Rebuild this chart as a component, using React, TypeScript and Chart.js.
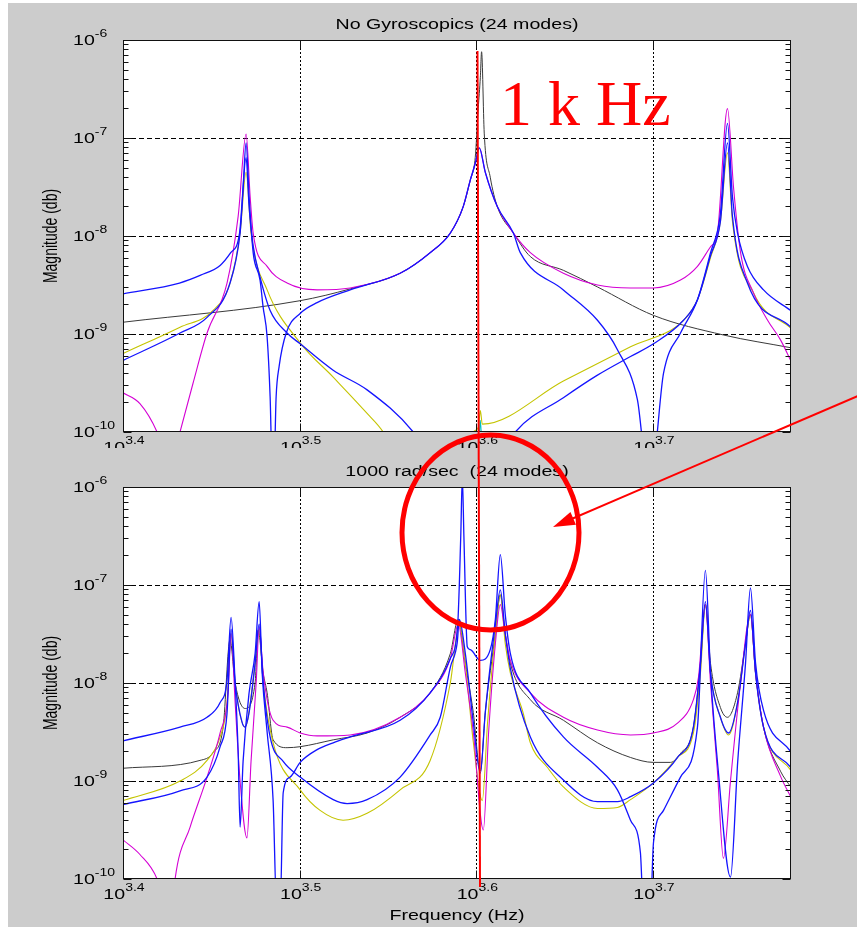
import React, { useEffect, useRef } from "react";
import { Chart, registerables } from "chart.js";
Chart.register(...registerables);

// ---------- axes ----------
const X_MIN = 2512; // 10^3.4 Hz
const X_MAX = 6000;
const Y_MIN = 1e-10;
const Y_MAX = 1e-6;
const X_TICK_EXP = ["3.4", "3.5", "3.6", "3.7"];
const Y_TICK_EXP = ["-6", "-7", "-8", "-9", "-10"];

const TOP_TITLE = "No Gyroscopics (24 modes)";
const BOTTOM_TITLE = "1000 rad/sec  (24 modes)";
const Y_LABEL = "Magnitude (db)";
const X_LABEL = "Frequency (Hz)";
const NOTE_TEXT = "1 k Hz";

// ---------- data: [log10(frequency Hz), log10(magnitude)] ----------
const topBlueA = [
  [3.4, -8.59], [3.432, -8.48], [3.444, -8.4], [3.455, -8.3], [3.461, -8.17], [3.466, -7.97], [3.468, -7.5],
  [3.4697, -7.05], [3.4714, -7.6], [3.4737, -8.17], [3.4776, -8.45], [3.4793, -8.72], [3.4816, -9.03],
  [3.4833, -9.64], [3.4844, -10.3], [3.4856, -10.3], [3.4867, -9.64], [3.4884, -9.33], [3.4924, -8.99],
  [3.5003, -8.79], [3.5099, -8.68], [3.5286, -8.55], [3.5569, -8.38], [3.5739, -8.17], [3.5853, -7.97],
  [3.5926, -7.7], [3.5966, -7.43], [3.5994, -7.26], [3.6017, -7.1], [3.6051, -7.35], [3.6119, -7.7],
  [3.621, -7.97], [3.6249, -8.17], [3.6493, -8.55], [3.6686, -8.86], [3.6799, -9.16], [3.6912, -9.67],
  [3.6962, -10.3], [3.6998, -10.3], [3.706, -9.4], [3.7156, -8.99], [3.7252, -8.65], [3.7326, -8.17],
  [3.7382, -7.77], [3.7422, -6.85], [3.745, -7.6], [3.7479, -7.97], [3.7535, -8.31], [3.7626, -8.55],
  [3.778, -8.76],
];
const topBlueB = [
  [3.4, -9.27], [3.4323, -8.99], [3.4476, -8.83], [3.4606, -8.48], [3.4663, -7.97], [3.4697, -7.2],
  [3.4714, -7.7], [3.4737, -8.1], [3.4776, -8.42], [3.4833, -8.76], [3.4929, -8.99], [3.5003, -9.1],
  [3.519, -9.37], [3.5382, -9.57], [3.5643, -10.0], [3.575, -10.3], [3.612, -10.3], [3.6221, -10.0],
  [3.6493, -9.65], [3.6686, -9.42], [3.6873, -9.23], [3.7003, -9.1], [3.7173, -8.86], [3.7252, -8.65],
  [3.7326, -8.2], [3.7382, -7.85], [3.7422, -7.05], [3.745, -7.8], [3.7535, -8.48], [3.778, -8.93],
];
const topYellow = [
  [3.4, -9.2], [3.4323, -8.93], [3.451, -8.76], [3.4606, -8.48], [3.4663, -7.97], [3.4697, -7.35],
  [3.4725, -7.97], [3.4816, -8.55], [3.5003, -9.09], [3.519, -9.44], [3.5382, -9.81], [3.5473, -10.0],
  [3.556, -10.3], [3.594, -10.3], [3.5983, -10.0], [3.6012, -9.95], [3.6023, -9.78], [3.6034, -9.92],
  [3.6493, -9.48], [3.6873, -9.13], [3.7173, -8.86], [3.7252, -8.65], [3.7326, -8.22], [3.7382, -7.85],
  [3.7422, -7.15], [3.745, -7.85], [3.7569, -8.58], [3.778, -8.94],
];
const topMagenta = [
  [3.4, -9.6], [3.4096, -9.71], [3.4193, -10.0], [3.425, -10.3], [3.428, -10.3], [3.4323, -10.0],
  [3.4397, -9.5], [3.4476, -8.99], [3.4589, -8.48], [3.4652, -7.8], [3.4697, -6.96], [3.472, -7.6],
  [3.4737, -7.97], [3.4816, -8.31], [3.4929, -8.48], [3.5099, -8.55], [3.5286, -8.53], [3.5569, -8.38],
  [3.5739, -8.17], [3.5853, -7.97], [3.5926, -7.7], [3.5966, -7.43], [3.5994, -7.26], [3.6017, -7.1],
  [3.6051, -7.35], [3.6119, -7.7], [3.621, -7.97], [3.6306, -8.17], [3.6493, -8.38], [3.6686, -8.5],
  [3.6873, -8.53], [3.7003, -8.53], [3.7156, -8.45], [3.7252, -8.31], [3.7326, -8.11], [3.7365, -7.97],
  [3.7422, -6.7], [3.7456, -7.5], [3.7496, -8.17], [3.7569, -8.58], [3.7649, -8.86], [3.7722, -9.06],
  [3.778, -9.27],
];
const topBlack = [
  [3.4, -8.88], [3.5003, -8.66], [3.5286, -8.54], [3.5569, -8.38], [3.5739, -8.17], [3.5853, -7.97],
  [3.5926, -7.7], [3.5966, -7.43], [3.5994, -7.2], [3.6011, -6.7], [3.6023, -6.38], [3.603, -6.12],
  [3.6045, -6.95], [3.6079, -7.4], [3.6119, -7.7], [3.621, -7.97], [3.6306, -8.21], [3.6493, -8.35],
  [3.6686, -8.52], [3.7003, -8.81], [3.7399, -9.01], [3.778, -9.14],
];
const topCyan = [[3.6011, -10.3], [3.6023, -9.88], [3.6034, -10.3]];

const botBlueA = [
  [3.4, -8.59], [3.4323, -8.45], [3.4476, -8.35], [3.455, -8.2], [3.4589, -7.97], [3.4612, -7.33],
  [3.4635, -8.0], [3.4652, -8.7], [3.4663, -9.47], [3.468, -8.8], [3.4714, -8.1], [3.4748, -7.7],
  [3.4771, -7.17], [3.4788, -7.9], [3.4816, -8.5], [3.485, -9.2], [3.487, -10.3], [3.489, -10.3],
  [3.4907, -9.12], [3.4946, -8.96], [3.5003, -8.81], [3.5099, -8.68], [3.519, -8.61], [3.5286, -8.55],
  [3.5569, -8.38], [3.5739, -8.1], [3.5853, -7.75], [3.5895, -7.4], [3.5912, -6.51], [3.5921, -5.9],
  [3.593, -6.51], [3.5949, -7.63], [3.5966, -7.66], [3.6023, -7.77], [3.6079, -7.66], [3.6108, -7.35],
  [3.6136, -6.69], [3.6164, -7.3], [3.6193, -7.7], [3.6306, -8.1], [3.6493, -8.55], [3.6686, -8.86],
  [3.6799, -9.09], [3.6873, -9.4], [3.6929, -9.73], [3.6946, -10.3], [3.6986, -10.3], [3.7003, -9.63],
  [3.706, -9.3], [3.7156, -8.96], [3.7252, -8.45], [3.7297, -6.85], [3.7326, -7.9], [3.737, -8.9],
  [3.7439, -9.98], [3.748, -8.8], [3.7524, -7.8], [3.7552, -7.03], [3.7581, -7.8], [3.7626, -8.28],
  [3.778, -8.7],
];
const botBlueB = [
  [3.4, -9.24], [3.4323, -9.1], [3.4476, -8.96], [3.455, -8.65], [3.4589, -8.31], [3.4612, -7.45],
  [3.4635, -8.0], [3.4674, -8.4], [3.4691, -8.45], [3.4714, -8.3], [3.4748, -7.8], [3.4771, -7.4],
  [3.4794, -8.0], [3.4833, -8.55], [3.4907, -8.8], [3.5003, -8.96], [3.519, -9.19], [3.5269, -9.23],
  [3.5382, -9.19], [3.5569, -8.96], [3.5739, -8.53], [3.5796, -8.35], [3.5853, -7.84], [3.5892, -7.59],
  [3.5904, -7.35], [3.5938, -7.7], [3.5983, -8.4], [3.6023, -8.92], [3.6051, -8.3], [3.6108, -7.4],
  [3.6136, -7.05], [3.6164, -7.5], [3.6193, -7.85], [3.6306, -8.55], [3.6493, -8.99], [3.6686, -9.21],
  [3.6799, -9.21], [3.6873, -9.16], [3.7003, -9.02], [3.7139, -8.76], [3.7229, -8.45], [3.7269, -7.8],
  [3.7297, -7.17], [3.7326, -7.9], [3.7382, -8.35], [3.7428, -8.51], [3.7479, -8.2], [3.7524, -7.6],
  [3.7552, -7.26], [3.7581, -7.9], [3.7626, -8.45], [3.778, -8.86],
];
const botYellow = [
  [3.4, -9.2], [3.4323, -9.0], [3.4476, -8.79], [3.455, -8.55], [3.4589, -8.2], [3.4612, -7.5],
  [3.4635, -8.0], [3.4691, -8.45], [3.4748, -7.8], [3.4771, -7.45], [3.4794, -8.0], [3.485, -8.61],
  [3.5003, -9.09], [3.5116, -9.3], [3.5246, -9.4], [3.5382, -9.33], [3.5569, -9.09], [3.5739, -8.79],
  [3.5853, -8.0], [3.5904, -7.4], [3.5938, -7.8], [3.5983, -8.6], [3.6034, -9.2], [3.6064, -8.4],
  [3.6108, -7.5], [3.6136, -7.1], [3.6164, -7.6], [3.6193, -7.9], [3.6266, -8.31], [3.6306, -8.61],
  [3.6402, -8.86], [3.6493, -9.06], [3.6686, -9.28], [3.6799, -9.27], [3.6873, -9.19], [3.7003, -9.02],
  [3.7139, -8.76], [3.7229, -8.51], [3.7269, -7.9], [3.7297, -7.2], [3.7326, -7.9], [3.7382, -8.35],
  [3.7428, -8.53], [3.7479, -8.2], [3.7524, -7.6], [3.7552, -7.3], [3.7581, -7.9], [3.7626, -8.45],
  [3.778, -8.89],
];
const botMagenta = [
  [3.4, -9.6], [3.4096, -9.75], [3.4193, -10.0], [3.424, -10.3], [3.428, -10.3], [3.4295, -10.0],
  [3.438, -9.47], [3.4476, -8.96], [3.455, -8.51], [3.4595, -8.1], [3.4612, -7.49], [3.4635, -8.2],
  [3.4663, -9.0], [3.4702, -9.58], [3.4725, -8.8], [3.4754, -8.0], [3.4771, -7.43], [3.4794, -7.9],
  [3.485, -8.38], [3.4929, -8.45], [3.5003, -8.51], [3.5099, -8.54], [3.5286, -8.53], [3.5569, -8.35],
  [3.5739, -8.1], [3.5853, -7.75], [3.5898, -7.4], [3.5938, -7.9], [3.5983, -8.5], [3.604, -9.5],
  [3.607, -8.5], [3.6108, -7.6], [3.6136, -7.2], [3.6164, -7.5], [3.6193, -7.77], [3.6306, -8.1],
  [3.6493, -8.35], [3.6686, -8.48], [3.6873, -8.53], [3.7003, -8.51], [3.7139, -8.41], [3.7229, -8.17],
  [3.7258, -7.94], [3.7297, -7.2], [3.7326, -8.0], [3.7365, -8.9], [3.7399, -9.79], [3.7439, -9.0],
  [3.7496, -8.0], [3.7552, -7.3], [3.7581, -7.9], [3.7626, -8.45], [3.7722, -8.95], [3.778, -9.16],
];
const botBlack = [
  [3.4, -8.87], [3.4436, -8.79], [3.451, -8.71], [3.4567, -8.45], [3.4606, -7.56], [3.4635, -8.0],
  [3.4691, -8.26], [3.4748, -8.0], [3.4765, -7.46], [3.4794, -7.9], [3.4816, -8.1], [3.485, -8.58],
  [3.4929, -8.66], [3.5003, -8.65], [3.519, -8.58], [3.5382, -8.51], [3.5569, -8.35], [3.5739, -8.1],
  [3.5853, -7.7], [3.5898, -7.35], [3.5938, -7.8], [3.5983, -8.3], [3.6023, -8.9], [3.6051, -8.3],
  [3.6108, -7.5], [3.6136, -7.1], [3.6164, -7.5], [3.6193, -7.8], [3.6306, -8.17], [3.6493, -8.38],
  [3.6686, -8.61], [3.6873, -8.76], [3.7003, -8.81], [3.7099, -8.81], [3.7156, -8.72], [3.7229, -8.45],
  [3.7269, -7.8], [3.7297, -7.2], [3.7326, -7.8], [3.7382, -8.25], [3.7422, -8.35], [3.7479, -8.1],
  [3.7524, -7.6], [3.7552, -7.3], [3.7581, -7.9], [3.7626, -8.45], [3.7722, -8.9], [3.778, -9.06],
];

// ---------- styling ----------
const BLUE = "#1414ff";
const MAGENTA = "#d400d4";
const YELLOW = "#c4c400";
const BLACK = "#3a3a3a";
const CYAN = "#00c0c0";
const FIG_BG = "#cccccc";
const FONT = '"Liberation Sans", Arial, Helvetica, sans-serif';
const STRETCH = 1.4;

const toPoints = (arr: number[][]) => arr.map(([lf, lm]) => ({ x: Math.pow(10, lf), y: Math.pow(10, lm) }));

function ds(arr: number[][], color: string, width: number) {
  return {
    data: toPoints(arr),
    borderColor: color,
    borderWidth: width,
    pointRadius: 0,
    cubicInterpolationMode: "monotone",
    fill: false,
  };
}

function textW(ctx: CanvasRenderingContext2D, text: string, size: number) {
  ctx.save();
  ctx.font = `${size}px ${FONT}`;
  const w = ctx.measureText(text).width * STRETCH;
  ctx.restore();
  return w;
}

function drawText(ctx: CanvasRenderingContext2D, text: string, left: number, y: number, size: number, baseline: CanvasTextBaseline) {
  ctx.save();
  ctx.font = `${size}px ${FONT}`;
  ctx.textBaseline = baseline;
  ctx.textAlign = "left";
  ctx.fillStyle = "#000";
  ctx.translate(left, y);
  ctx.scale(STRETCH, 1);
  ctx.fillText(text, 0, 0);
  ctx.restore();
}

const matlabAxes = {
  id: "matlabAxes",
  beforeDatasetsDraw(chart: any) {
    const { ctx, chartArea: a, scales } = chart;
    const x = scales.x, y = scales.y;
    ctx.save();
    ctx.fillStyle = "#fff";
    ctx.fillRect(a.left, a.top, a.right - a.left, a.bottom - a.top);
    ctx.strokeStyle = "#000";
    ctx.lineWidth = 1;
    ctx.setLineDash([5, 3]);
    for (const e of Y_TICK_EXP) {
      const py = Math.round(y.getPixelForValue(Math.pow(10, Number(e)))) + 0.5;
      if (py <= a.top + 1 || py >= a.bottom - 1) continue;
      ctx.beginPath();
      ctx.moveTo(a.left, py);
      ctx.lineTo(a.right, py);
      ctx.stroke();
    }
    ctx.setLineDash([2, 2]);
    for (const e of X_TICK_EXP) {
      const px = Math.round(x.getPixelForValue(Math.pow(10, Number(e)))) + 0.5;
      if (px <= a.left + 1 || px >= a.right - 1) continue;
      ctx.beginPath();
      ctx.moveTo(px, a.top);
      ctx.lineTo(px, a.bottom);
      ctx.stroke();
    }
    ctx.restore();
  },
  afterDatasetsDraw(chart: any, _args: any, opts: any) {
    const { ctx, chartArea: a, scales } = chart;
    const x = scales.x, y = scales.y;
    ctx.save();
    ctx.strokeStyle = "#111";
    ctx.lineWidth = 1;
    ctx.setLineDash([]);
    const L = Math.round(a.left) + 0.5, R = Math.round(a.right) - 0.5;
    const T = Math.round(a.top) + 0.5, B = Math.round(a.bottom) - 0.5;
    ctx.strokeRect(L, T, R - L, B - T);
    ctx.beginPath();
    for (let d = -10; d <= -6; d++) {
      for (let k = 1; k <= 9; k++) {
        const v = k * Math.pow(10, d);
        if (v < Y_MIN * 0.999 || v > Y_MAX * 1.001) continue;
        const py = Math.round(y.getPixelForValue(v)) + 0.5;
        const len = k === 1 ? 8 : 5;
        ctx.moveTo(L, py); ctx.lineTo(L + len, py);
        ctx.moveTo(R, py); ctx.lineTo(R - len, py);
      }
    }
    for (const e of X_TICK_EXP) {
      const px = Math.round(x.getPixelForValue(Math.pow(10, Number(e)))) + 0.5;
      ctx.moveTo(px, B); ctx.lineTo(px, B - 8);
      ctx.moveTo(px, T); ctx.lineTo(px, T + 8);
    }
    ctx.stroke();

    for (const e of Y_TICK_EXP) {
      const py = y.getPixelForValue(Math.pow(10, Number(e)));
      const left = a.left - 50;
      const w10 = textW(ctx, "10", 14);
      drawText(ctx, "10", left, py + 1, 14, "middle");
      drawText(ctx, e, left + w10, py - 3, 10, "alphabetic");
    }
    for (const e of X_TICK_EXP) {
      const px = x.getPixelForValue(Math.pow(10, Number(e)));
      const w10 = textW(ctx, "10", 14);
      const we = textW(ctx, e, 10);
      const start = px + 1 - (w10 + we) / 2;
      const cy = a.bottom + 16;
      drawText(ctx, "10", start, cy, 14, "middle");
      drawText(ctx, e, start + w10, cy - 4, 10, "alphabetic");
    }
    const cx = (a.left + a.right) / 2;
    const tw = textW(ctx, opts.title, 14);
    drawText(ctx, opts.title, cx - tw / 2, a.top - 15, 14, "middle");
    ctx.save();
    ctx.translate(a.left - 71, (a.top + a.bottom) / 2);
    ctx.scale(STRETCH, 1);
    ctx.rotate(-Math.PI / 2);
    ctx.font = `14px ${FONT}`;
    ctx.fillStyle = "#000";
    ctx.textAlign = "center";
    ctx.textBaseline = "middle";
    ctx.fillText(Y_LABEL, 0, 0);
    ctx.restore();
    if (opts.xLabel) {
      const xw = textW(ctx, X_LABEL, 14);
      drawText(ctx, X_LABEL, cx - xw / 2, a.bottom + 37, 14, "middle");
    }
    ctx.restore();
  },
};

function makeConfig(datasets: any[], title: string, xLabel: boolean, padding: any): any {
  return {
    type: "line",
    data: { datasets },
    plugins: [matlabAxes],
    options: {
      animation: false,
      responsive: false,
      maintainAspectRatio: false,
      events: [],
      layout: { padding },
      plugins: {
        legend: { display: false },
        title: { display: false },
        tooltip: { enabled: false },
        matlabAxes: { title, xLabel },
      },
      scales: {
        x: { type: "logarithmic", min: X_MIN, max: X_MAX, display: false },
        y: { type: "logarithmic", min: Y_MIN, max: Y_MAX, display: false },
      },
    },
  };
}

// ---------- annotation overlay (page coordinates) ----------
const RED = "#ff0000";
const MARK_LINE = { x1: 477.5, y1: 51, x2: 480, y2: 887 };
const MARK_ELLIPSE = { cx: 490.5, cy: 532.5, rx: 88.5, ry: 97.5 };
const MARK_ARROW = { x1: 860, y1: 395, x2: 553, y2: 527 };
const MARK_TEXT = { x: 500, y: 125, size: 64 };

function arrowHead() {
  const { x1, y1, x2, y2 } = MARK_ARROW;
  const dx = x2 - x1, dy = y2 - y1;
  const len = Math.hypot(dx, dy);
  const ux = dx / len, uy = dy / len;
  const hl = 22, hw = 7;
  const bx = x2 - ux * hl, by = y2 - uy * hl;
  return `${x2},${y2} ${bx - uy * hw},${by + ux * hw} ${bx + uy * hw},${by - ux * hw}`;
}

export default function App() {
  const topRef = useRef<HTMLCanvasElement>(null);
  const botRef = useRef<HTMLCanvasElement>(null);

  useEffect(() => {
    const topSets = [
      ds(topBlueA, BLUE, 1.3),
      ds(topBlueB, BLUE, 1.3),
      ds(topCyan, CYAN, 1.2),
      ds(topMagenta, MAGENTA, 1.1),
      ds(topYellow, YELLOW, 1.1),
      ds(topBlack, BLACK, 1),
    ];
    const botSets = [
      ds(botBlueA, BLUE, 1.3),
      ds(botBlueB, BLUE, 1.3),
      ds(botMagenta, MAGENTA, 1.1),
      ds(botYellow, YELLOW, 1.1),
      ds(botBlack, BLACK, 1),
    ];
    const c1 = new Chart(topRef.current as HTMLCanvasElement, makeConfig(topSets, TOP_TITLE, false, { left: 115, right: 66, top: 37, bottom: 16 }));
    const c2 = new Chart(botRef.current as HTMLCanvasElement, makeConfig(botSets, BOTTOM_TITLE, true, { left: 115, right: 66, top: 39, bottom: 48 }));
    return () => {
      c1.destroy();
      c2.destroy();
    };
  }, []);

  return (
    <>
      <div style={{ position: "absolute", left: 8, top: 3, width: 849, height: 924, background: FIG_BG, overflow: "hidden" }}>
        <canvas ref={topRef} width={849} height={445} style={{ position: "absolute", left: 0, top: 0, width: 849, height: 445, display: "block" }} />
        <canvas ref={botRef} width={849} height={479} style={{ position: "absolute", left: 0, top: 445, width: 849, height: 479, display: "block" }} />
      </div>
      <svg width={857} height={927} style={{ position: "absolute", left: 0, top: 0, pointerEvents: "none" }}>
        <line x1={MARK_LINE.x1} y1={MARK_LINE.y1} x2={MARK_LINE.x2} y2={MARK_LINE.y2} stroke={RED} strokeWidth={2} />
        <ellipse cx={MARK_ELLIPSE.cx} cy={MARK_ELLIPSE.cy} rx={MARK_ELLIPSE.rx} ry={MARK_ELLIPSE.ry} fill="none" stroke={RED} strokeWidth={5} />
        <line x1={MARK_ARROW.x1} y1={MARK_ARROW.y1} x2={MARK_ARROW.x2 + 15} y2={MARK_ARROW.y2 - 6.5} stroke={RED} strokeWidth={2} />
        <polygon points={arrowHead()} fill={RED} />
        <text x={MARK_TEXT.x} y={MARK_TEXT.y} fill={RED} style={{ font: `${MARK_TEXT.size}px "Liberation Serif", "Times New Roman", serif` }}>
          {NOTE_TEXT}
        </text>
      </svg>
    </>
  );
}
